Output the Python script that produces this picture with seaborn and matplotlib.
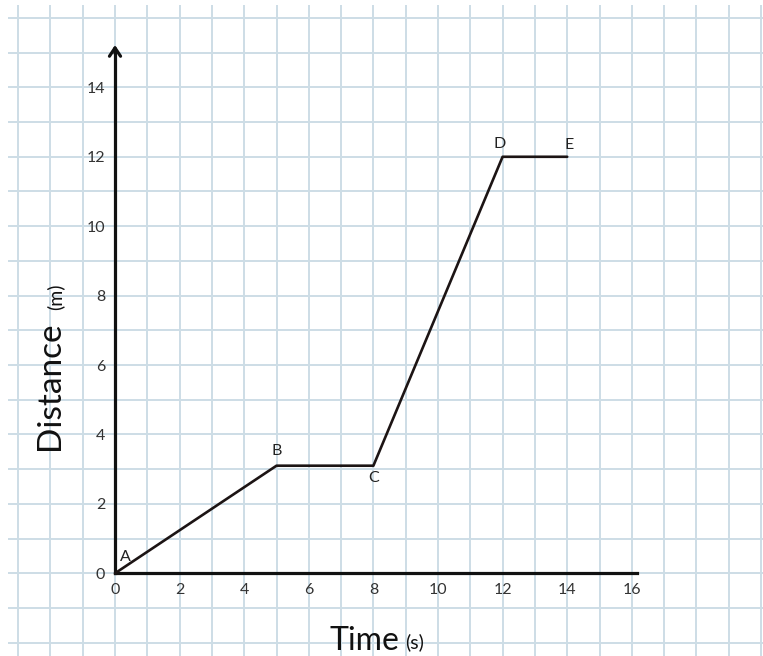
import matplotlib
matplotlib.use("Agg")
import matplotlib.pyplot as plt
import matplotlib.ticker as mticker
import seaborn as sns
import pandas as pd

# ---- data ----
time_s = [0, 5, 8, 12, 14]
distance_m = [0, 3.1, 3.1, 12, 12]
point_labels = ["A", "B", "C", "D", "E"]
x_ticks = [0, 2, 4, 6, 8, 10, 12, 14, 16]
y_ticks = [0, 2, 4, 6, 8, 10, 12, 14]

# label offsets in points (dx, dy)
label_offsets = [(7.7, 12), (0, 10.3), (0, -8.6), (-1.9, 9.1), (1.4, 8.4)]

sns.set_style("white")
plt.rcParams["font.family"] = ["Lato", "DejaVu Sans"]

W, H, DPI = 763, 656, 100
fig = plt.figure(figsize=(W / DPI, H / DPI), dpi=DPI)
left_px, top_px = 8, 5
ax = fig.add_axes([left_px / W, 0, (W - left_px) / W, (H - top_px) / H])

df = pd.DataFrame({"Time": time_s, "Distance": distance_m})
sns.lineplot(data=df, x="Time", y="Distance", sort=False, ax=ax,
             color="#1c1414", linewidth=1.9, zorder=5)

x0_px, y0_px, sx, sy = 115, 573.3, 32.3, 34.71
ax.set_xlim((left_px - x0_px) / sx, (W - x0_px) / sx)
ax.set_ylim((y0_px - H) / sy, (y0_px - top_px) / sy)

# grid (graph paper)
ax.xaxis.set_major_locator(mticker.FixedLocator(x_ticks))
ax.yaxis.set_major_locator(mticker.FixedLocator(y_ticks))
ax.xaxis.set_minor_locator(mticker.MultipleLocator(1))
ax.yaxis.set_minor_locator(mticker.MultipleLocator(1))
ax.grid(which="both", color="#cddde6", linewidth=1.4)
ax.set_axisbelow(True)
ax.tick_params(which="minor", length=0)
ax.tick_params(which="major", length=4, width=2, direction="out",
               colors="#111111", labelcolor="#333333", labelsize=11.5, pad=3)
for lab in ax.get_xticklabels() + ax.get_yticklabels():
    lab.set_fontweight("medium")

# axes spines through origin
for s in ["top", "right"]:
    ax.spines[s].set_visible(False)
ax.spines["bottom"].set_position(("data", 0))
ax.spines["left"].set_position(("data", 0))
ax.spines["bottom"].set_bounds(0, 16.15)
ax.spines["left"].set_bounds(0, 15.0)
for s in ["bottom", "left"]:
    ax.spines[s].set_linewidth(2.3)
    ax.spines[s].set_color("#111111")
    ax.spines[s].set_zorder(4)

# arrow head on y axis
ax.annotate("", xy=(0, 15.3), xytext=(0, 14.9),
            arrowprops=dict(arrowstyle="->,head_width=0.4,head_length=0.6",
                            color="#111111", lw=2.3), zorder=6)

ax.set_xlabel("")
ax.set_ylabel("")

# point letters
for x, y, lab, (dx, dy) in zip(time_s, distance_m, point_labels, label_offsets):
    ax.annotate(lab, xy=(x, y), xytext=(dx, dy), textcoords="offset points",
                ha="center", va="center", fontsize=11.5, color="#222222",
                zorder=7)

# axis titles
def fx(px):
    return px / W

def fy(py):
    return 1 - py / H

fig.text(fx(330), fy(650), "Time", fontsize=23, color="#111111",
         ha="left", va="baseline")
fig.text(fx(405), fy(648), "(s)", fontsize=14, color="#111111",
         ha="left", va="baseline")
fig.text(fx(50), fy(386), "Distance", fontsize=24, color="#111111",
         rotation=90, ha="center", va="center")
fig.text(fx(55), fy(297), "(m)", fontsize=14, color="#111111",
         rotation=90, ha="center", va="center")

fig.savefig("out.png", dpi=DPI, facecolor="white")
